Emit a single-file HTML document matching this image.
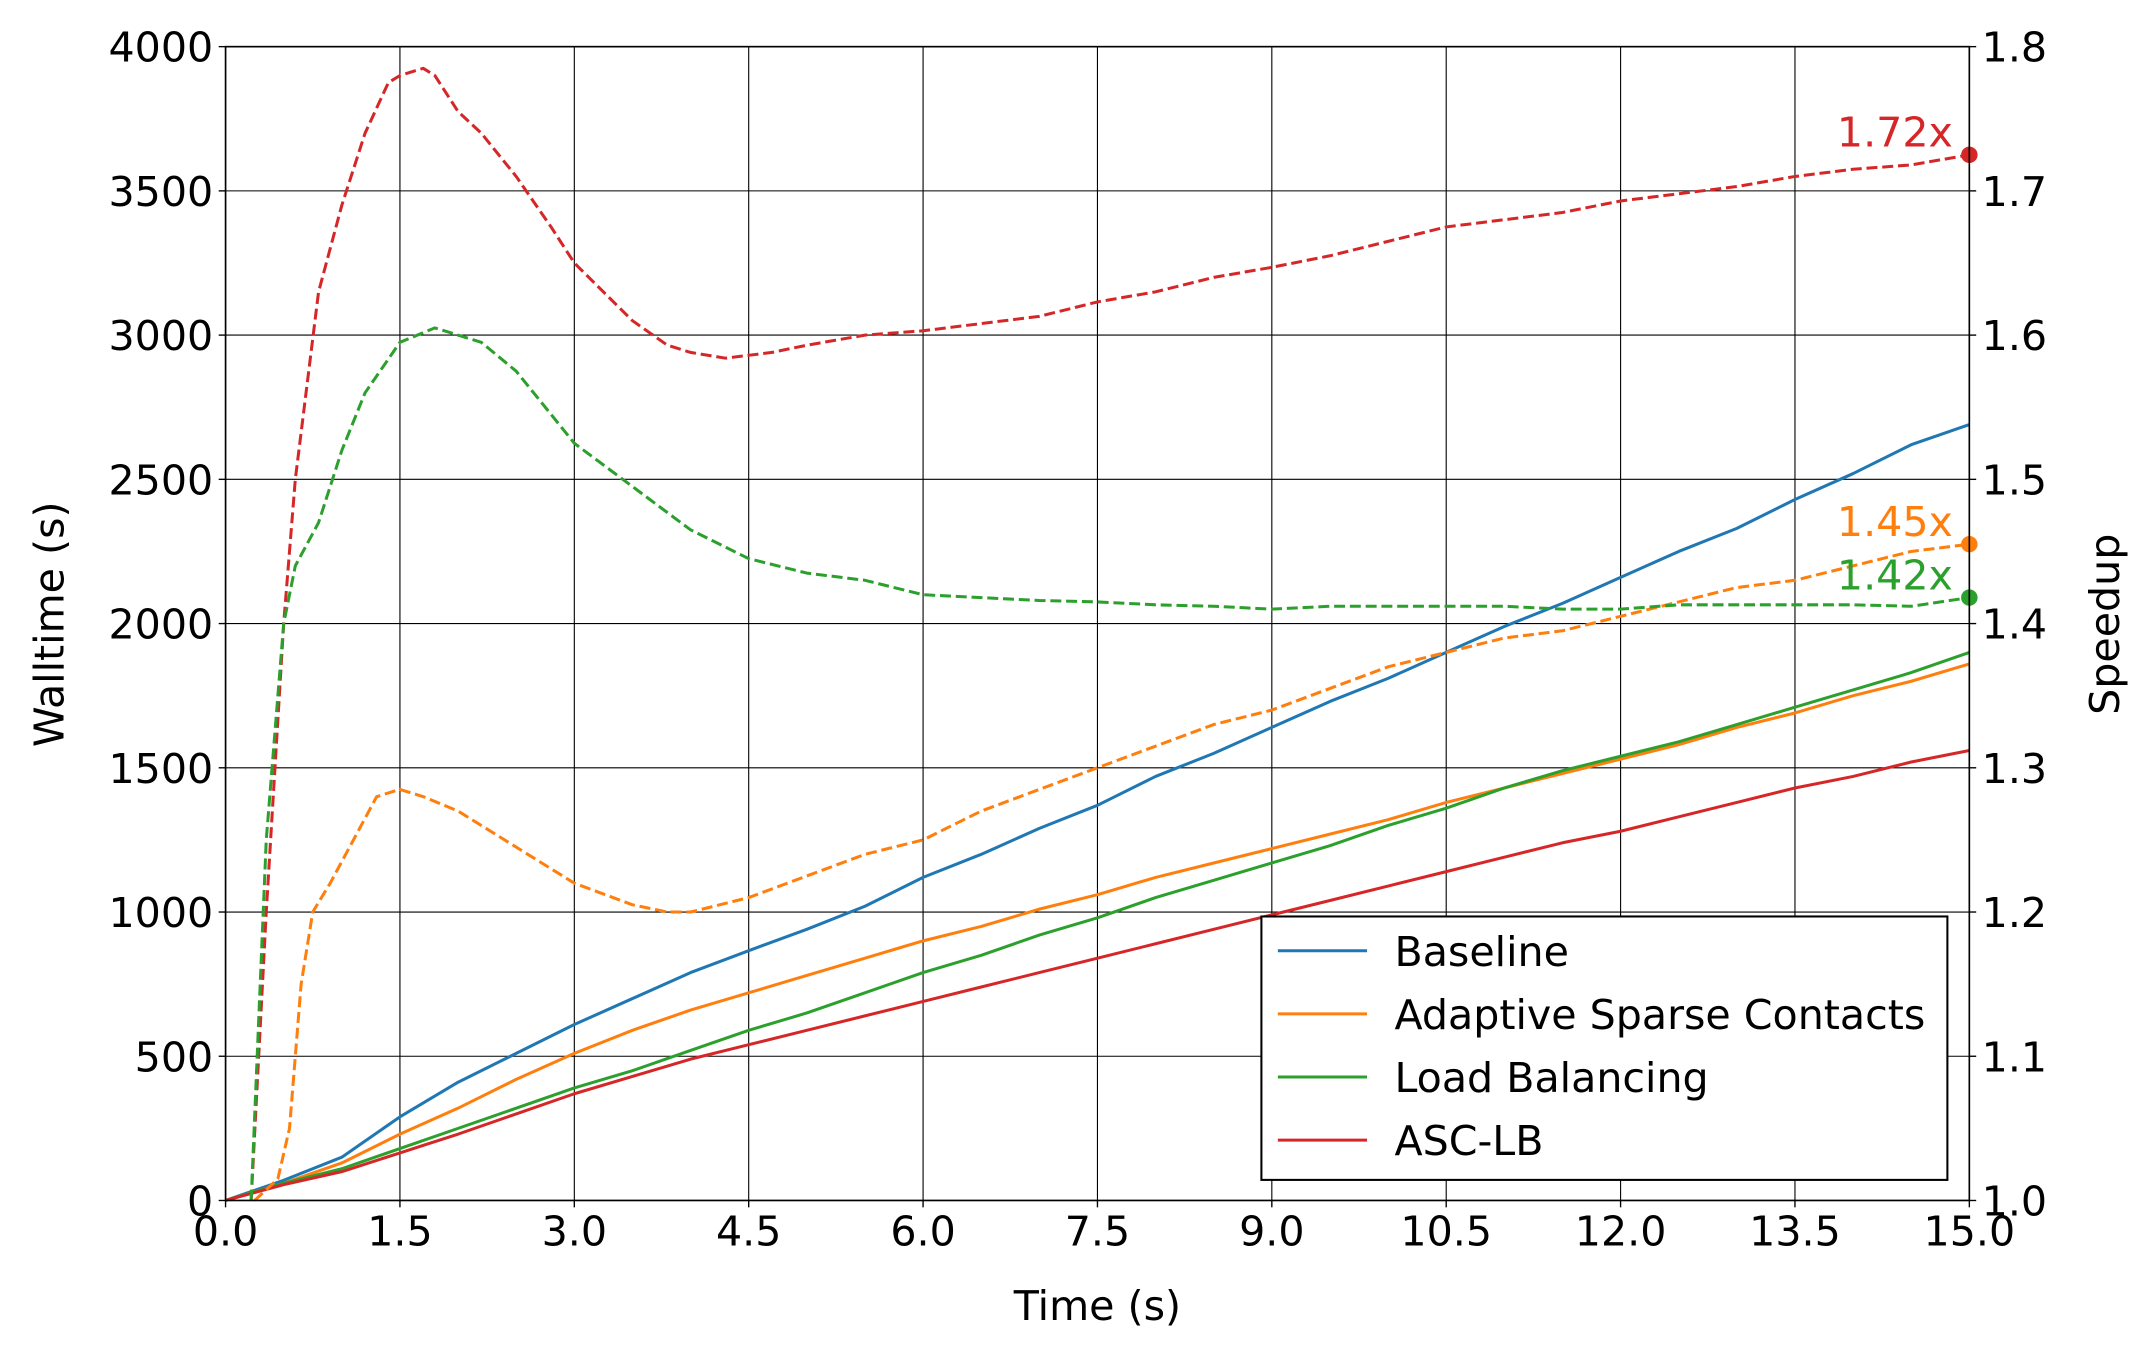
<!DOCTYPE html>
<html><head><meta charset="utf-8"><style>
html,body{margin:0;padding:0;background:#fff}
svg{display:block}
text{font-family:"DejaVu Sans","Liberation Sans",sans-serif;fill:#000}
</style></head><body>
<svg id="chart" width="2151" height="1361" viewBox="0 0 1565 992" xmlns="http://www.w3.org/2000/svg"></svg>
<script>
const times = [0,0.5,1,1.5,2,2.5,3,3.5,4,4.5,5,5.5,6,6.5,7,7.5,8,8.5,9,9.5,10,10.5,11,11.5,12,12.5,13,13.5,14,14.5,15];
const baselineWall = [0,70,150,290,410,510,610,700,790,866,940,1020,1120,1200,1290,1370,1470,1550,1640,1730,1810,1900,1990,2070,2160,2250,2330,2430,2520,2620,2690];
const ascWall = [0,60,130,230,320,420,510,590,660,720,780,840,900,950,1010,1060,1120,1170,1220,1270,1320,1380,1430,1480,1530,1580,1640,1690,1750,1800,1860];
const lbWall = [0,60,110,180,250,320,390,450,520,590,650,720,790,850,920,980,1050,1110,1170,1230,1300,1360,1430,1490,1540,1590,1650,1710,1770,1830,1900];
const asclbWall = [0,55,100,165,230,300,370,430,490,540,590,640,690,740,790,840,890,940,990,1040,1090,1140,1190,1240,1280,1330,1380,1430,1470,1520,1560];

const asclbSpT = [0.22,0.35,0.5,0.6,0.8,1.0,1.2,1.4,1.5,1.7,1.8,2.0,2.2,2.5,2.8,3.0,3.5,3.8,4.0,4.3,4.7,5.0,5.5,6,6.5,7,7.5,8,8.5,9,9.5,10,10.5,11,11.5,12,12.5,13,13.5,14,14.5,15];
const asclbSp = [1.0,1.2,1.4,1.5,1.63,1.69,1.74,1.775,1.78,1.785,1.78,1.755,1.74,1.71,1.675,1.65,1.61,1.593,1.588,1.584,1.588,1.593,1.6,1.603,1.608,1.613,1.623,1.63,1.64,1.647,1.655,1.665,1.675,1.68,1.685,1.693,1.698,1.703,1.71,1.715,1.718,1.725];
const ascSpT = [0.25,0.45,0.55,0.65,0.75,0.9,1.1,1.3,1.5,1.7,2.0,2.5,3.0,3.5,3.8,4.0,4.5,5.0,5.5,6.0,6.5,7.0,7.5,8,8.5,9,9.5,10,10.5,11,11.5,12,12.5,13,13.5,14,14.5,15];
const ascSp = [1.0,1.015,1.05,1.15,1.2,1.22,1.25,1.28,1.285,1.28,1.27,1.245,1.22,1.205,1.2,1.2,1.21,1.225,1.24,1.25,1.27,1.285,1.3,1.315,1.33,1.34,1.355,1.37,1.38,1.39,1.395,1.405,1.415,1.425,1.43,1.44,1.45,1.455];
const lbSpT = [0.22,0.35,0.5,0.6,0.8,1.0,1.2,1.5,1.8,2.2,2.5,3.0,3.5,4.0,4.5,5.0,5.5,6,6.5,7,7.5,8,8.5,9,9.5,10,10.5,11,11.5,12,12.5,13,13.5,14,14.5,15];
const lbSp = [1.0,1.25,1.4,1.44,1.47,1.52,1.56,1.595,1.605,1.595,1.575,1.525,1.495,1.465,1.445,1.435,1.43,1.42,1.418,1.416,1.415,1.413,1.412,1.41,1.412,1.412,1.412,1.412,1.41,1.41,1.413,1.413,1.413,1.413,1.412,1.418];

const xTicks = [0,1.5,3,4.5,6,7.5,9,10.5,12,13.5,15];
const yTicks = [0,500,1000,1500,2000,2500,3000,3500,4000];
const y2Ticks = [1.0,1.1,1.2,1.3,1.4,1.5,1.6,1.7,1.8];
const finalLabels = ["1.72x","1.45x","1.42x"];

const L=163,R=1434,T=34,B=875;
const FS=30;
const sx=t=>L+(t-0)/15*(R-L);
const sy=v=>B-v/4000*(B-T);
const sy2=v=>B-(v-1.0)/0.8*(B-T);
const svg=document.getElementById('chart');
const NS='http://www.w3.org/2000/svg';
function mk(tag,attrs,parent){const e=document.createElementNS(NS,tag);for(const k in attrs)e.setAttribute(k,attrs[k]);(parent||svg).appendChild(e);return e;}
const C={blue:'#1f77b4',orange:'#ff7f0e',green:'#2ca02c',red:'#d62728'};

xTicks.forEach(t=>{const g=mk('line',{x1:sx(t),x2:sx(t),y1:T,y2:B,stroke:'#000','stroke-width':0.8});


const tk=mk('line',{x1:sx(t),x2:sx(t),y1:B,y2:B+5,stroke:'#000','stroke-width':1});


const tx=mk('text',{x:sx(t),y:B+33,'text-anchor':'middle','font-size':FS});tx.textContent=t.toFixed(1);

});
yTicks.forEach(v=>{const g=mk('line',{x1:L,x2:R,y1:sy(v),y2:sy(v),stroke:'#000','stroke-width':0.8});


const tk=mk('line',{x1:L-5,x2:L,y1:sy(v),y2:sy(v),stroke:'#000','stroke-width':1});


const tx=mk('text',{x:L-9,y:sy(v)+11,'text-anchor':'end','font-size':FS});tx.textContent=v;

});
y2Ticks.forEach(v=>{const tk=mk('line',{x1:R,x2:R+5,y1:sy2(v),y2:sy2(v),stroke:'#000','stroke-width':1});


const tx=mk('text',{x:R+9,y:sy2(v)+11,'text-anchor':'start','font-size':FS});tx.textContent=v.toFixed(1);

});

function line(xs,ys,scale,color,dash,name){
  const d=xs.map((t,i)=>(i?'L':'M')+sx(t).toFixed(2)+','+scale(ys[i]).toFixed(2)).join('');
  const p=mk('path',{d:d,fill:'none',stroke:color,'stroke-width':2.2,'stroke-dasharray':dash||'none','stroke-linejoin':'round'});
  
  
}
line(times,baselineWall,sy,C.blue,null,'baseline-walltime-line');
line(times,ascWall,sy,C.orange,null,'asc-walltime-line');
line(times,lbWall,sy,C.green,null,'lb-walltime-line');
line(times,asclbWall,sy,C.red,null,'asclb-walltime-line');
line(asclbSpT,asclbSp,sy2,C.red,'8,3.5','asclb-speedup-line');
line(ascSpT,ascSp,sy2,C.orange,'8,3.5','asc-speedup-line');
line(lbSpT,lbSp,sy2,C.green,'8,3.5','lb-speedup-line');

const finals=[[asclbSp,C.red,'asclb'],[ascSp,C.orange,'asc'],[lbSp,C.green,'lb']];
finals.forEach((f,i)=>{const v=f[0][f[0].length-1];
const c=mk('circle',{cx:sx(15),cy:sy2(v),r:6,fill:f[1]});


const tx=mk('text',{x:sx(15)-12,y:sy2(v)-6,'text-anchor':'end','font-size':FS});tx.style.fill=f[1];tx.textContent=finalLabels[i];

});

const fr=mk('rect',{x:L,y:T,width:R-L,height:B-T,fill:'none',stroke:'#000','stroke-width':1.2});



let a=mk('text',{x:(L+R)/2,y:962,'text-anchor':'middle','font-size':FS});a.textContent='Time (s)';


a=mk('text',{x:0,y:0,'text-anchor':'middle','font-size':FS,transform:'translate(45,455) rotate(-90)'});a.textContent='Walltime (s)';


a=mk('text',{x:0,y:0,'text-anchor':'middle','font-size':FS,transform:'translate(1543,455) rotate(-90)'});a.textContent='Speedup';



const lg=mk('g',{});


mk('rect',{x:918,y:668,width:500,height:192,fill:'#fff',stroke:'#000','stroke-width':1.5},lg);
const legendNames=['Baseline','Adaptive Sparse Contacts','Load Balancing','ASC-LB'];
const legendColors=[C.blue,C.orange,C.green,C.red];
legendNames.forEach((n,i)=>{const y=693+i*46;
const ln=mk('line',{x1:930,x2:995,y1:y,y2:y,stroke:legendColors[i],'stroke-width':2.2},lg);


const tx=mk('text',{x:1015,y:y+11,'font-size':FS},lg);tx.textContent=n;

});
</script>
</body></html>
